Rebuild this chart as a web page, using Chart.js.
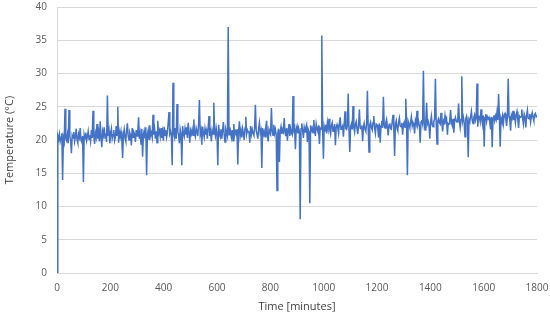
<!DOCTYPE html>
<html>
<head>
<meta charset="utf-8">
<script src="https://cdn.jsdelivr.net/npm/chart.js@4"></script>
<style>
  html, body { margin: 0; padding: 0; background: #fff; }
  #wrap { width: 550px; height: 316px; }
</style>
</head>
<body>
<div id="wrap"><canvas id="tempChart"></canvas></div>
<script>
// sampling interval of the logged series, minutes
const sampleMinutes = 3;

// temperature readings, one every 3 minutes from 0 to 1800 (10 per row = 30 min)
const temperatures = [
    0.0, 20.6, 20.1, 20.9, 19.8, 20.4, 21.0, 14.0, 20.3, 19.7,
    24.7, 20.2, 19.9, 20.8, 19.5, 24.5, 20.6, 20.0, 18.0, 20.7,
    20.3, 21.2, 19.8, 20.5, 21.7, 20.1, 19.6, 20.9, 20.4, 21.8,
    20.0, 19.7, 20.6, 13.7, 20.8, 20.2, 21.1, 19.9, 20.5, 21.3,
    20.1, 20.7, 19.8, 21.5, 20.3, 24.4, 20.6, 19.4, 21.0, 20.4,
    22.4, 20.2, 21.1, 19.8, 22.8, 20.5, 18.9, 21.3, 20.7, 21.9,
    20.3, 21.0, 19.7, 26.7, 20.6, 21.4, 19.5, 20.9, 21.7, 20.2,
    20.8, 21.5, 19.9, 20.4, 22.1, 20.7, 25.0, 19.6, 21.2, 20.5,
    21.3, 20.1, 17.3, 20.8, 21.6, 20.3, 19.8, 21.4, 22.5, 20.6,
    20.0, 21.1, 20.7, 19.2, 21.8, 20.4, 21.2, 20.9, 19.7, 21.5,
    20.6, 21.3, 23.4, 20.2, 21.0, 19.4, 21.7, 17.5, 20.8, 21.4,
    20.3, 21.9, 14.7, 20.9, 21.5, 20.1, 22.2, 20.7, 21.1, 20.4,
    23.8, 20.8, 21.6, 20.2, 21.3, 19.6, 22.9, 20.9, 21.4, 20.5,
    21.8, 20.3, 21.2, 19.9, 22.0, 20.7, 21.5, 20.4, 21.1, 22.6,
    24.2, 20.9, 21.3, 20.6, 16.2, 28.6, 21.0, 20.4, 21.8, 20.2,
    25.4, 21.3, 20.7, 19.5, 21.6, 20.9, 16.2, 22.1, 21.0, 20.5,
    21.7, 20.8, 21.9, 20.3, 22.6, 21.2, 19.6, 21.4, 20.9, 21.6,
    20.7, 23.1, 21.0, 20.5, 21.8, 21.3, 20.6, 22.4, 26.0, 20.9,
    21.5, 19.3, 22.0, 21.1, 20.4, 21.7, 20.8, 21.4, 20.2, 21.9,
    23.6, 20.6, 21.2, 19.8, 21.5, 20.9, 25.6, 21.3, 20.6, 21.8,
    21.0, 16.2, 22.3, 21.0, 20.5, 21.6, 20.2, 21.4, 22.7, 20.8,
    19.7, 21.6, 21.1, 20.6, 37.0, 20.8, 21.9, 21.2, 20.4, 21.5,
    19.9, 22.4, 20.7, 21.3, 20.9, 21.6, 16.3, 21.3, 22.8, 20.6,
    21.4, 20.4, 21.7, 21.0, 20.0, 21.8, 23.5, 20.9, 21.5, 21.2,
    21.2, 19.6, 22.1, 20.9, 21.6, 21.0, 20.7, 21.8, 25.3, 21.4,
    20.9, 20.2, 21.7, 22.6, 21.1, 21.5, 15.8, 21.8, 20.8, 21.3,
    20.5, 21.9, 22.9, 20.7, 19.8, 21.6, 21.2, 20.9, 24.8, 21.4,
    20.7, 22.3, 21.0, 21.6, 20.8, 12.4, 21.0, 21.7, 16.7, 21.3,
    22.0, 20.9, 21.5, 21.2, 23.3, 21.2, 20.6, 21.8, 19.9, 21.4,
    22.4, 20.6, 21.7, 21.1, 20.8, 26.6, 21.5, 21.9, 18.6, 21.6,
    22.1, 21.0, 21.8, 21.3, 8.1, 21.7, 22.5, 21.4, 20.3, 21.9,
    21.2, 21.9, 22.3, 19.7, 21.6, 21.2, 10.5, 22.2, 21.4, 21.8,
    21.1, 23.0, 21.5, 20.6, 22.4, 21.7, 21.3, 22.2, 19.4, 21.8,
    21.6, 35.7, 21.9, 17.2, 22.0, 21.4, 22.3, 21.0, 22.6, 21.7,
    23.2, 21.5, 20.9, 22.2, 22.6, 21.3, 21.5, 22.4, 19.2, 21.9,
    22.3, 21.8, 21.0, 22.5, 23.4, 21.6, 21.8, 22.1, 20.5, 22.3,
    24.3, 21.7, 21.6, 22.2, 27.0, 21.4, 18.2, 22.0, 22.4, 21.6,
    25.1, 21.9, 21.2, 22.4, 22.8, 21.7, 20.9, 22.3, 24.6, 21.8,
    21.7, 22.2, 19.8, 21.9, 22.5, 21.6, 21.3, 22.4, 27.4, 21.8,
    18.2, 22.3, 22.7, 21.9, 21.5, 22.6, 23.6, 21.8, 21.0, 22.4,
    22.3, 21.7, 20.4, 22.5, 19.6, 22.1, 22.9, 21.8, 26.5, 22.2,
    21.8, 22.6, 23.1, 21.9, 20.7, 22.3, 22.5, 21.7, 21.6, 22.8,
    23.8, 22.0, 17.6, 22.4, 22.9, 21.8, 21.4, 22.7, 23.3, 22.1,
    22.0, 22.6, 20.8, 22.3, 22.7, 21.9, 26.2, 22.5, 14.7, 22.8,
    22.4, 21.9, 22.7, 23.5, 22.1, 22.6, 22.2, 21.0, 22.9, 22.4,
    24.4, 22.3, 22.8, 22.1, 19.6, 22.7, 23.0, 22.4, 30.4, 22.6,
    21.5, 22.9, 25.6, 22.4, 22.8, 22.2, 20.2, 22.7, 23.6, 22.3,
    22.0, 22.8, 23.1, 29.2, 22.5, 19.4, 22.9, 23.2, 22.6, 22.4,
    24.1, 22.7, 21.3, 22.9, 22.6, 23.7, 22.8, 23.1, 20.8, 22.5,
    22.4, 23.0, 24.5, 22.7, 22.2, 23.2, 21.1, 22.8, 23.4, 22.9,
    22.7, 23.3, 25.5, 22.9, 21.9, 23.1, 29.6, 22.8, 23.4, 22.6,
    20.5, 23.2, 23.6, 22.9, 17.4, 23.1, 22.8, 23.5, 24.3, 23.0,
    22.5, 23.4, 23.8, 22.9, 23.3, 28.5, 22.0, 23.6, 23.5, 22.8,
    24.6, 23.1, 22.3, 23.7, 19.0, 23.4, 23.9, 22.8, 23.5, 23.2,
    23.4, 22.7, 21.6, 23.5, 18.9, 23.3, 23.7, 22.9, 23.6, 23.1,
    24.2, 23.0, 26.9, 23.4, 19.0, 23.3, 22.8, 23.6, 22.5, 23.8,
    24.0, 23.2, 22.1, 23.5, 29.2, 23.6, 23.0, 21.4, 23.7, 23.3,
    24.4, 23.0, 23.6, 22.6, 23.8, 24.3, 23.1, 21.8, 23.6, 23.4,
    23.5, 24.6, 23.2, 22.4, 23.9, 23.5, 21.9, 23.7, 24.5, 23.3,
    23.2, 23.9, 22.7, 23.6, 24.1, 23.4, 22.9, 23.8, 24.0, 23.5,
    23.7
];

const xTicks = [0, 200, 400, 600, 800, 1000, 1200, 1400, 1600, 1800];
const yTicks = [0, 5, 10, 15, 20, 25, 30, 35, 40];

const points = temperatures.map((t, i) => ({ x: i * sampleMinutes, y: t }));

const ctx = document.getElementById("tempChart").getContext("2d");
const tempChart = new Chart(ctx, {
    type: "line",
    data: {
        datasets: [
            {
                data: points,
                borderColor: "#4472C4",
                borderWidth: 1.5,
                pointRadius: 0,
                tension: 0,
            },
        ],
    },
    options: {
        responsive: true,
        maintainAspectRatio: false,
        animation: false,
        layout: { padding: { top: 7, right: 13, left: 0, bottom: 0 } },
        plugins: {
            legend: { display: false },
            tooltip: { enabled: false },
        },
        scales: {
            x: {
                type: "linear",
                min: xTicks[0],
                max: xTicks[xTicks.length - 1],
                afterBuildTicks: (axis) => { axis.ticks = xTicks.map((v) => ({ value: v })); },
                afterFit: (axis) => {
                    axis.height = 43;
                    axis.paddingLeft = 0;
                    axis.paddingRight = 0;
                },
                grid: { display: false, drawTicks: false },
                border: { color: "#d9d9d9", width: 1 },
                ticks: {
                    padding: 9,
                    color: "#595959",
                    font: { family: "Open Sans", size: 10 },
                    maxRotation: 0,
                    callback: (v) => String(v),
                },
                title: {
                    display: true,
                    text: "Time [minutes]",
                    color: "#404040",
                    font: { family: "Open Sans", size: 11 },
                    padding: { top: 0, bottom: 3 },
                },
            },
            y: {
                min: yTicks[0],
                max: yTicks[yTicks.length - 1],
                afterBuildTicks: (axis) => { axis.ticks = yTicks.map((v) => ({ value: v })); },
                afterFit: (axis) => {
                    axis.width = 57;
                    axis.paddingTop = 0;
                    axis.paddingBottom = 0;
                },
                grid: { color: "#d9d9d9", drawTicks: false },
                border: { display: true, color: "#d9d9d9" },
                ticks: {
                    padding: 10,
                    color: "#595959",
                    font: { family: "Open Sans", size: 10 },
                    callback: (v) => String(v),
                },
                title: {
                    display: true,
                    text: "Temperature (°C)",
                    color: "#404040",
                    font: { family: "Open Sans", size: 11 },
                    padding: { top: 3, bottom: 1 },
                },
            },
        },
    },
});
</script>
</body>
</html>
